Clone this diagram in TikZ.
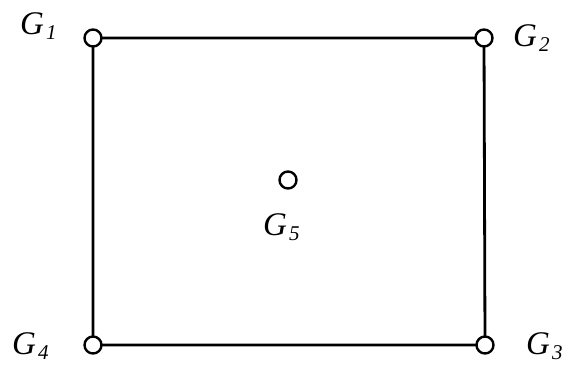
\documentclass[tikz,border=0pt]{standalone}
\usepackage{fontspec}
\setmainfont{Liberation Serif}
\newcommand{\glab}[1]{\itshape G\kern0.06em\raisebox{-0.18em}{\fontsize{21}{21}\selectfont #1}}
\begin{document}
\begin{tikzpicture}[x=1pt,y=-1pt,
  vtx/.style={circle,draw=black,line width=2.4pt,fill=white,minimum size=17pt,inner sep=0pt},
  edge/.style={line width=2.8pt},
  lbl/.style={anchor=base west,inner sep=0pt,font=\fontsize{33}{33}\selectfont}]
\useasboundingbox (0,0) rectangle (572,367);
\coordinate (p1) at (93,38);
\coordinate (p2) at (484,38);
\coordinate (p3) at (485,345);
\coordinate (p4) at (93,345);
\draw[edge] (p1) -- (p2) -- (p3) -- (p4) -- cycle;
\node[vtx] (g1) at (p1) {};
\node[vtx] (g2) at (p2) {};
\node[vtx] (g3) at (p3) {};
\node[vtx] (g4) at (p4) {};
\node[vtx] (g5) at (288,180) {};
\node[lbl] (l1) at (20,34) {\glab{1}};
\node[lbl] (l2) at (513,46) {\glab{2}};
\node[lbl] (l3) at (526,354) {\glab{3}};
\node[lbl] (l4) at (12,354) {\glab{4}};
\node[lbl] (l5) at (263,235) {\glab{5}};
\end{tikzpicture}
\end{document}
